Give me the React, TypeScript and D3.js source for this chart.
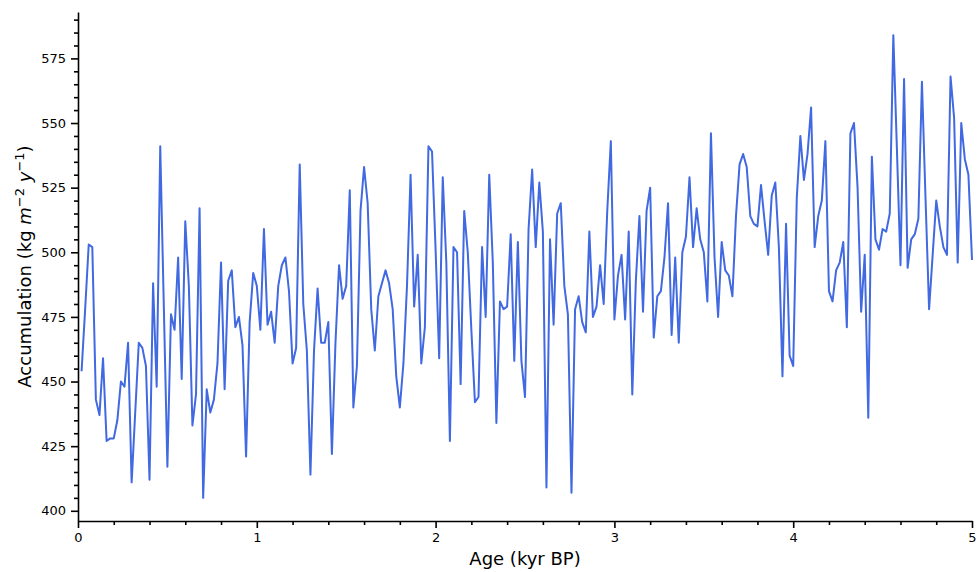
import React, { useEffect, useRef } from "react";
import * as d3 from "d3";

// samples every 20 years, first one at 0.02 kyr BP
const AGE_STEP = 0.02;

const accumulation = [
    454, 478, 503, 502, 443, 437, 459, 427, 428, 428, 435, 450, 448, 465, 411, 438, 465, 463, 456, 412, 488, 448, 541, 479, 417,
    476, 470, 498, 451, 512, 487, 433, 445, 517, 405, 447, 438, 443, 457, 496, 447, 489, 493, 471, 475, 464, 421, 473, 492, 487, 470, 509,
    472, 477, 465, 487, 495, 498, 485, 457, 463, 534, 480, 462, 414, 462, 486, 465, 465, 473, 422, 465, 495, 482, 487, 524, 440, 456, 516,
    533, 519, 478, 462, 483, 488, 493, 488, 478, 452, 440, 457, 487, 530, 479, 499, 457, 471, 541, 539, 501, 459, 529, 496, 427, 502,
    500, 449, 516, 500, 470, 442, 444, 502, 475, 530, 496, 434, 481, 478, 479, 507, 458, 504, 458, 444, 509, 532, 502, 527, 508, 409,
    505, 472, 515, 519, 487, 476, 407, 478, 483, 473, 469, 508, 475, 479, 495, 480, 516, 543, 474, 491, 499, 474, 508, 445, 489, 514, 477,
    516, 525, 467, 483, 485, 498, 519, 468, 498, 465, 500, 506, 529, 502, 517, 505, 500, 481, 546, 498, 475, 504, 493, 491, 483, 514,
    534, 538, 533, 514, 511, 510, 526, 512, 499, 522, 527, 502, 452, 511, 460, 456, 521, 545, 528, 538, 556, 502, 514, 520, 543, 485, 481,
    493, 496, 504, 471, 546, 550, 525, 477, 499, 436, 537, 505, 501, 509, 508, 515, 584, 540, 495, 567,
    494, 505, 507, 513, 566, 521, 478, 499, 520, 510, 502, 499, 568, 552, 496, 550, 536, 530, 497
];

const xTicks = [0, 1, 2, 3, 4, 5];
const xMinorTicks = [0.2, 0.4, 0.6, 0.8, 1.2, 1.4, 1.6, 1.8, 2.2, 2.4, 2.6, 2.8, 3.2, 3.4, 3.6, 3.8, 4.2, 4.4, 4.6, 4.8];
const yTicks = [400, 425, 450, 475, 500, 525, 550, 575];

const FONT = "DejaVu Sans, sans-serif";

const App = () => {
    const svgRef = useRef<SVGSVGElement | null>(null);

    useEffect(() => {
        document.body.style.margin = "0";
        if (!svgRef.current) return;

        const width = 979;
        const height = 572;
        const margin = { top: 12, right: 7, bottom: 51, left: 78 };

        const data = accumulation.map((v, i) => ({ age: (i + 1) * AGE_STEP, value: v }));

        const svg = d3.select(svgRef.current)
            .attr("width", width)
            .attr("height", height);
        svg.selectAll("*").remove();

        const x = d3.scaleLinear()
            .domain([0, 5])
            .range([margin.left, width - margin.right]);

        // matplotlib-style 5% padding around the data
        const [lo, hi] = d3.extent(accumulation) as [number, number];
        const pad = (hi - lo) * 0.05;
        const y = d3.scaleLinear()
            .domain([lo - pad, hi + pad])
            .range([height - margin.bottom, margin.top]);

        const yMinorTicks = d3.range(400, hi + pad, 5).filter(t => t % 25 !== 0);

        const line = d3.line<{ age: number; value: number }>()
            .x(d => x(d.age))
            .y(d => y(d.value));

        svg.append("path")
            .datum(data)
            .attr("fill", "none")
            .attr("stroke", "#4169e1")
            .attr("stroke-width", 2)
            .attr("stroke-linejoin", "round")
            .attr("d", line);

        const styleAxis = (g: d3.Selection<SVGGElement, unknown, null, undefined>) => {
            g.selectAll("path").attr("stroke", "black").attr("stroke-width", 1.6);
            g.selectAll("line").attr("stroke", "black").attr("stroke-width", 1.6);
            g.selectAll("text").attr("fill", "black").style("font-family", FONT).style("font-size", "13px");
        };

        // minor ticks first, no domain line
        const xMinor = svg.append("g")
            .attr("transform", `translate(0,${height - margin.bottom})`)
            .call(d3.axisBottom(x).tickValues(xMinorTicks).tickSize(4).tickFormat(() => ""));
        xMinor.select(".domain").remove();
        styleAxis(xMinor);

        const yMinor = svg.append("g")
            .attr("transform", `translate(${margin.left},0)`)
            .call(d3.axisLeft(y).tickValues(yMinorTicks).tickSize(4).tickFormat(() => ""));
        yMinor.select(".domain").remove();
        styleAxis(yMinor);

        const xAxis = svg.append("g")
            .attr("transform", `translate(0,${height - margin.bottom})`)
            .call(d3.axisBottom(x).tickValues(xTicks).tickSize(7).tickSizeOuter(0).tickPadding(5).tickFormat(d3.format("d")));
        xAxis.attr("font-size", null).attr("font-family", null);
        styleAxis(xAxis);

        const yAxis = svg.append("g")
            .attr("transform", `translate(${margin.left},0)`)
            .call(d3.axisLeft(y).tickValues(yTicks).tickSize(7).tickSizeOuter(0).tickPadding(5).tickFormat(d3.format("d")));
        yAxis.attr("font-size", null).attr("font-family", null);
        styleAxis(yAxis);

        svg.append("text")
            .attr("x", (x(0) + x(5)) / 2)
            .attr("y", 565)
            .attr("text-anchor", "middle")
            .style("font-family", FONT)
            .style("font-size", "18px")
            .text("Age (kyr BP)");

        const yLabel = svg.append("text")
            .attr("transform", `translate(31,${(y.range()[0] + y.range()[1]) / 2}) rotate(-90)`)
            .attr("text-anchor", "middle")
            .style("font-family", FONT)
            .style("font-size", "18px");
        yLabel.append("tspan").text("Accumulation (kg ");
        yLabel.append("tspan").style("font-style", "italic").text("m");
        yLabel.append("tspan").attr("dy", -7).style("font-size", "13px").text("\u22122");
        yLabel.append("tspan").attr("dy", 7).text(" ");
        yLabel.append("tspan").style("font-style", "italic").text("y");
        yLabel.append("tspan").attr("dy", -7).style("font-size", "13px").text("\u22121");
        yLabel.append("tspan").attr("dy", 7).text(")");
    }, []);

    return <svg ref={svgRef} style={{ display: "block" }}></svg>;
};

export default App;
